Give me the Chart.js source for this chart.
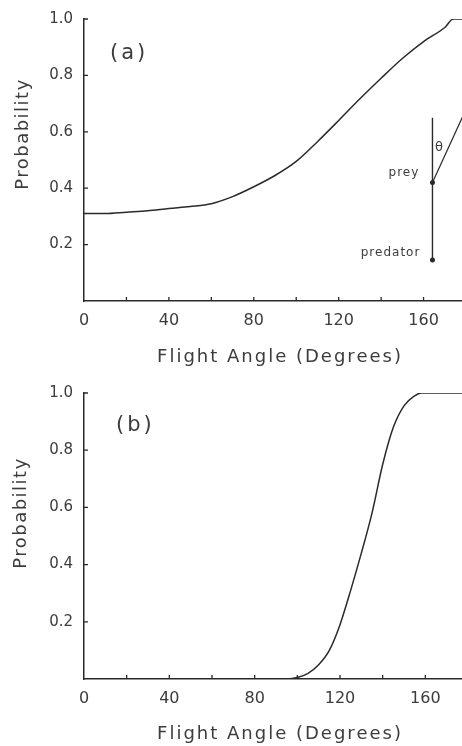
<!DOCTYPE html>
<html>
<head>
<meta charset="utf-8">
<script src="https://cdn.jsdelivr.net/npm/chart.js@4.4.1/dist/chart.umd.min.js"></script>
<style>
  html, body { margin: 0; padding: 0; background: #fff; overflow: hidden; width: 462px; height: 746px; }
  canvas { position: absolute; left: 0; }
  #chartA { top: 0; }
  #chartB { top: 372px; }
</style>
</head>
<body>
<canvas id="chartA" width="472" height="372"></canvas>
<canvas id="chartB" width="472" height="374"></canvas>
<script>
// Panel (a): probability vs flight angle
const anglesA = [0, 10, 20, 30, 40, 50, 60, 70, 80, 90, 100, 110, 120, 130, 140, 150, 160, 170, 174, 180];
const probA   = [0.31, 0.31, 0.315, 0.32, 0.328, 0.335, 0.345, 0.37, 0.405, 0.445, 0.495, 0.565, 0.64, 0.717, 0.79, 0.86, 0.92, 0.97, 1.0, 1.0];

// Panel (b)
const anglesB = [0, 20, 40, 60, 80, 95, 100, 105, 110, 115, 120, 125, 130, 135, 140, 145, 150, 155, 158, 180];
const probB   = [0, 0, 0, 0, 0, 0, 0.005, 0.02, 0.05, 0.1, 0.19, 0.31, 0.44, 0.58, 0.75, 0.88, 0.955, 0.99, 1.0, 1.0];

// inset sketch in panel (a), in axis units
const stickX = [164.2, 164.2];
const stickY = [0.65, 0.145];
const pathX = [164.2, 180];
const pathY = [0.42, 0.68];
const dotX = [164.2, 164.2];
const dotY = [0.42, 0.145];
const insetText = ['prey', 'predator', 'θ'];
const insetTextX = [158, 158.5, 167.5];
const insetTextY = [0.455, 0.17, 0.545];

const xTicksShown = [0, 40, 80, 120, 160];
const xTitle = 'Flight Angle (Degrees)';
const yTitle = 'Probability';

const INK = '#2a2a2a';
const TEXT = '#3c3c3c';
const FONT = '"DejaVu Sans"';

function pts(xs, ys) {
  return xs.map((x, i) => ({ x: x, y: ys[i] }));
}

// short inward tick marks + hand placed titles
const decor = {
  id: 'decor',
  afterDraw(chart, args, opts) {
    const { ctx, chartArea } = chart;
    const xs = chart.scales.x, ys = chart.scales.y;
    ctx.save();
    ctx.strokeStyle = INK;
    ctx.lineWidth = 1.3;
    ctx.beginPath();
    for (let v = 0.2; v <= 1.001; v += 0.2) {
      const py = ys.getPixelForValue(v);
      ctx.moveTo(chartArea.left, py);
      ctx.lineTo(chartArea.left + 4, py);
    }
    for (let a = 20; a <= 160; a += 20) {
      const px = xs.getPixelForValue(a);
      ctx.moveTo(px, chartArea.bottom);
      ctx.lineTo(px, chartArea.bottom - 4);
    }
    ctx.stroke();

    ctx.fillStyle = TEXT;
    ctx.textBaseline = 'middle';

    // panel letter
    ctx.font = '21px ' + FONT;
    ctx.letterSpacing = '3px';
    ctx.textAlign = 'left';
    ctx.fillText(opts.panel, chartArea.left + opts.panelDx, chartArea.top + opts.panelDy);

    // x title
    ctx.font = '18px ' + FONT;
    ctx.letterSpacing = '2px';
    ctx.textAlign = 'center';
    ctx.fillText(xTitle, opts.xTitleX, opts.xTitleY);

    // y title
    ctx.letterSpacing = '1.5px';
    ctx.translate(opts.yTitleX, opts.yTitleY);
    ctx.rotate(-Math.PI / 2);
    ctx.fillText(yTitle, 0, 0);
    ctx.restore();

    if (opts.inset) {
      ctx.save();
      ctx.fillStyle = TEXT;
      ctx.textBaseline = 'middle';
      ctx.letterSpacing = '1px';
      insetText.forEach((t, i) => {
        ctx.font = (t === 'θ' ? '13px ' : '12px ') + FONT;
        ctx.textAlign = t === 'θ' ? 'center' : 'right';
        ctx.fillText(t, xs.getPixelForValue(insetTextX[i]), ys.getPixelForValue(insetTextY[i]));
      });
      ctx.restore();
    }
  }
};

function baseOptions(padTop, padRight, axisH, decorOpts) {
  return {
    responsive: false,
    animation: false,
    layout: { padding: { top: padTop, right: padRight, left: 0, bottom: 0 } },
    plugins: { legend: { display: false }, tooltip: { enabled: false }, decor: decorOpts },
    scales: {
      x: {
        type: 'linear',
        min: 0,
        max: 180,
        afterFit(s) { s.height = axisH; },
        border: { display: true, color: INK, width: 1.5 },
        grid: { display: false },
        ticks: {
          stepSize: 20,
          autoSkip: false,
          maxRotation: 0,
          padding: 2,
          color: TEXT,
          font: { family: FONT, size: 16 },
          callback: v => xTicksShown.includes(v) ? String(v) : ''
        }
      },
      y: {
        type: 'linear',
        min: 0,
        max: 1,
        afterFit(s) { s.width = 84; },
        border: { display: true, color: INK, width: 1.5 },
        grid: { display: false },
        ticks: {
          stepSize: 0.2,
          padding: 3,
          color: TEXT,
          font: { family: FONT, size: 15 },
          callback: v => v === 0 ? '' : v.toFixed(1)
        }
      }
    }
  };
}

const lineStyle = {
  borderColor: INK,
  borderWidth: 1.5,
  pointRadius: 0,
  fill: false,
  cubicInterpolationMode: 'monotone'
};

new Chart(document.getElementById('chartA'), {
  type: 'line',
  data: {
    datasets: [
      Object.assign({ data: pts(anglesA, probA) }, lineStyle),
      { data: pts(stickX, stickY), borderColor: INK, borderWidth: 1.4, pointRadius: 0 },
      { data: pts(pathX, pathY), borderColor: INK, borderWidth: 1.2, pointRadius: 0 },
      { data: pts(dotX, dotY), showLine: false, pointRadius: 2.5, pointBackgroundColor: INK, pointBorderWidth: 0 }
    ]
  },
  options: baseOptions(19, 6, 71, {
    panel: '(a)', panelDx: 26, panelDy: 35,
    xTitleX: 280, xTitleY: 357,
    yTitleX: 23, yTitleY: 134,
    inset: true
  }),
  plugins: [decor]
});

new Chart(document.getElementById('chartB'), {
  type: 'line',
  data: {
    datasets: [
      Object.assign({ data: pts(anglesB, probB) }, lineStyle)
    ]
  },
  options: baseOptions(21, 4, 67, {
    panel: '(b)', panelDx: 32, panelDy: 33,
    xTitleX: 280, xTitleY: 362,
    yTitleX: 21, yTitleY: 141,
    inset: false
  }),
  plugins: [decor]
});
</script>
</body>
</html>
